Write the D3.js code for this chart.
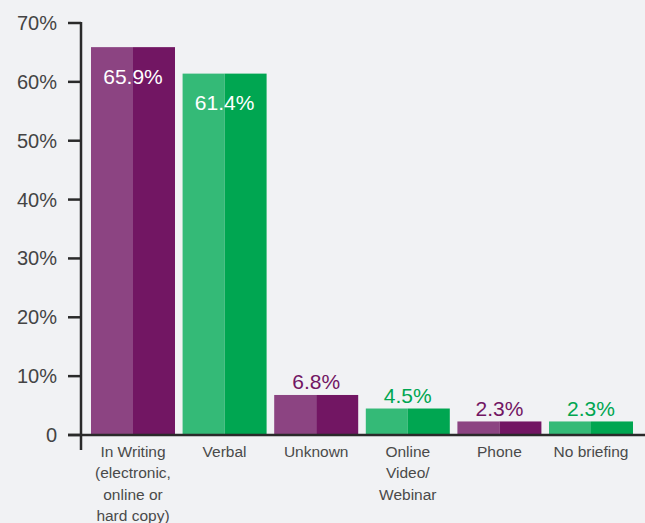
<!DOCTYPE html>
<html>
<head>
<meta charset="utf-8">
<script src="https://cdn.jsdelivr.net/npm/d3@7"></script>
<style>
  html, body { margin: 0; padding: 0; background: #F1F2F4; }
  svg { display: block; font-family: "Liberation Sans", Arial, Helvetica, sans-serif; }
</style>
</head>
<body>
<svg id="chart" width="645" height="523"></svg>
<script>
const categories = ["In Writing|(electronic,|online or|hard copy)", "Verbal", "Unknown", "Online|Video/|Webinar", "Phone", "No briefing"];
const values = [65.9, 61.4, 6.8, 4.5, 2.3, 2.3];
const seriesColor = ["purple", "green", "purple", "green", "purple", "green"];
const tickValues = [0, 10, 20, 30, 40, 50, 60, 70];
const tickLabels = ["0", "10%", "20%", "30%", "40%", "50%", "60%", "70%"];

const palette = {
  purple: { light: "#8C4482", dark: "#721663" },
  green: { light: "#34BA77", dark: "#00A651" }
};

const svg = d3.select("#chart");
const axisX = 81, baseY = 435;

const y = d3.scaleLinear().domain([0, 70]).range([baseY, 23]);
const x = d3.scaleBand().domain(d3.range(categories.length)).range([91, 633]).paddingInner(0.083).paddingOuter(0);

// bars (two halves each)
const g = svg.append("g");
values.forEach((v, i) => {
  const c = palette[seriesColor[i]];
  const x0 = x(i), w = x.bandwidth();
  g.append("rect").attr("x", x0).attr("y", y(v)).attr("width", w / 2).attr("height", baseY - y(v)).attr("fill", c.light);
  g.append("rect").attr("x", x0 + w / 2).attr("y", y(v)).attr("width", w / 2).attr("height", baseY - y(v)).attr("fill", c.dark);
  const inside = v > 20;
  g.append("text")
    .attr("x", x0 + w / 2)
    .attr("y", inside ? y(v) + 36.5 : y(v) - 5.5)
    .attr("text-anchor", "middle")
    .attr("font-size", 21)
    .attr("fill", inside ? "#ffffff" : c.dark)
    .text(v.toFixed(1) + "%");
});

// y axis
svg.append("line").attr("x1", axisX).attr("x2", axisX).attr("y1", y(70) - 1).attr("y2", 450)
  .attr("stroke", "#2a2a2a").attr("stroke-width", 2.5);
tickValues.forEach((t, i) => {
  svg.append("line").attr("x1", 68).attr("x2", axisX).attr("y1", y(t)).attr("y2", y(t))
    .attr("stroke", "#2a2a2a").attr("stroke-width", 2.5);
  svg.append("text").attr("x", 57).attr("y", y(t) + 7).attr("text-anchor", "end")
    .attr("font-size", 20).attr("fill", "#444").text(tickLabels[i]);
});
// x axis baseline
svg.append("line").attr("x1", 68).attr("x2", 645).attr("y1", baseY).attr("y2", baseY)
  .attr("stroke", "#2a2a2a").attr("stroke-width", 2.5);

// category labels
categories.forEach((c, i) => {
  const t = svg.append("text").attr("text-anchor", "middle").attr("font-size", 15.5).attr("fill", "#4a4a4a");
  c.split("|").forEach((line, j) => {
    t.append("tspan").attr("x", x(i) + x.bandwidth() / 2).attr("y", 457 + j * 21.3).text(line);
  });
});
</script>
</body>
</html>
